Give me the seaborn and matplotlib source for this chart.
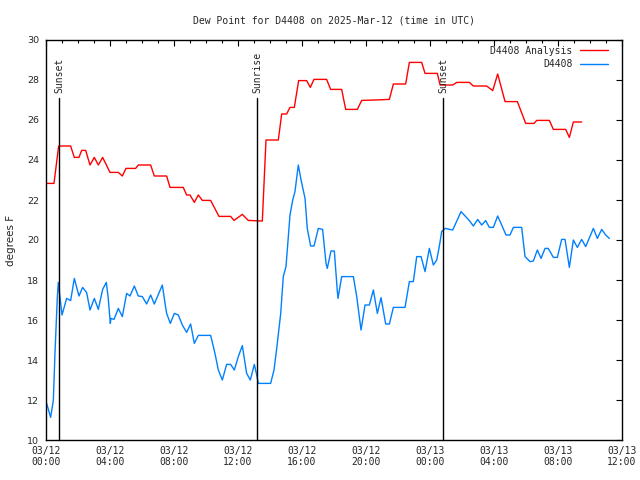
import numpy as np
import pandas as pd
import matplotlib
matplotlib.use("Agg")
import matplotlib.pyplot as plt
import matplotlib.dates as mdates
import seaborn as sns

# ---- data (hours after 2025-03-12 00:00 UTC, degrees F) ----
analysis_hours = [0.0, 0.5, 0.79, 1.54, 1.77, 2.06, 2.23, 2.48, 2.75, 3.02, 3.27, 3.54,
                  4.0, 4.52, 4.77, 5.0, 5.6, 5.77, 6.54, 6.77, 7.54, 7.75, 8.58, 8.79,
                  9.0, 9.27, 9.52, 9.77, 10.29, 10.81, 11.54, 11.75, 12.27, 12.64, 13.52,
                  13.75, 14.52, 14.73, 15.04, 15.25, 15.52, 15.79, 16.29, 16.52, 16.75,
                  17.54, 17.79, 18.48, 18.73, 19.46, 19.73, 20.56, 21.46, 21.71, 22.48,
                  22.71, 23.48, 23.69, 24.46, 24.63, 25.42, 25.67, 26.46, 26.71, 27.54,
                  27.92, 28.23, 28.69, 29.46, 29.98, 30.5, 30.67, 31.46, 31.71, 32.48,
                  32.71, 32.96, 33.48]
analysis_vals = [22.83, 22.83, 24.7, 24.7, 24.13, 24.13, 24.48, 24.48, 23.75, 24.13, 23.75, 24.13,
                 23.38, 23.38, 23.2, 23.58, 23.58, 23.75, 23.75, 23.2, 23.2, 22.63, 22.63, 22.25,
                 22.25, 21.88, 22.25, 21.98, 21.98, 21.18, 21.18, 20.98, 21.28, 20.98, 20.95,
                 25.0, 25.0, 26.3, 26.3, 26.63, 26.63, 27.97, 27.97, 27.63, 28.03,
                 28.03, 27.53, 27.53, 26.53, 26.53, 26.98, 27.0, 27.03, 27.8, 27.8,
                 28.88, 28.88, 28.33, 28.33, 27.75, 27.75, 27.88, 27.88, 27.7, 27.7,
                 27.47, 28.3, 26.92, 26.92, 25.83, 25.83, 25.98, 25.98, 25.53, 25.53,
                 25.13, 25.9, 25.9]

obs_hours = [0.04, 0.29, 0.46, 0.56, 0.71, 0.77, 1.0, 1.29, 1.54, 1.77, 2.06, 2.29, 2.54,
             2.75, 3.02, 3.27, 3.54, 3.77, 3.89, 4.02, 4.06, 4.25, 4.52, 4.77, 5.04, 5.25,
             5.52, 5.77, 6.02, 6.29, 6.54, 6.77, 7.27, 7.44, 7.54, 7.77, 8.02, 8.27, 8.52,
             8.79, 9.04, 9.27, 9.52, 10.29, 10.56, 10.77, 11.02, 11.29, 11.54, 11.77, 12.02,
             12.27, 12.44, 12.54, 12.77, 13.02, 13.17, 13.27, 14.04, 14.25, 14.42, 14.67,
             14.83, 15.0, 15.25, 15.42, 15.56, 15.77, 15.94, 16.19, 16.33, 16.54, 16.75,
             17.02, 17.29, 17.5, 17.58, 17.81, 18.02, 18.21, 18.25, 18.48, 19.21, 19.42,
             19.69, 19.94, 20.21, 20.46, 20.71, 20.94, 21.23, 21.46, 21.71, 22.44, 22.71,
             22.96, 23.17, 23.44, 23.69, 23.96, 24.21, 24.42, 24.58, 24.73, 24.94, 25.42,
             25.94, 26.46, 26.71, 26.98, 27.23, 27.48, 27.71, 27.96, 28.23, 28.48, 28.75,
             29.0, 29.21, 29.73, 29.94, 30.25, 30.46, 30.71, 30.94, 31.19, 31.39, 31.71,
             31.96, 32.23, 32.44, 32.71, 32.96, 33.21, 33.48, 33.73, 34.21, 34.46, 34.73,
             34.98, 35.21]
obs_vals = [11.83, 11.13, 12.0, 14.33, 17.17, 17.88, 16.25, 17.08, 16.97, 18.08, 17.2, 17.63, 17.37,
            16.5, 17.08, 16.53, 17.53, 17.88, 17.08, 15.83, 16.08, 16.03, 16.58, 16.17, 17.33, 17.2,
            17.7, 17.2, 17.17, 16.8, 17.25, 16.8, 17.75, 16.83, 16.33, 15.83, 16.33, 16.25, 15.75,
            15.38, 15.8, 14.83, 15.23, 15.23, 14.33, 13.5, 13.0, 13.78, 13.78, 13.5, 14.17,
            14.72, 13.83, 13.33, 13.0, 13.78, 13.25, 12.83, 12.83, 13.5, 14.58, 16.33,
            18.17, 18.67, 21.25, 22.0, 22.42, 23.75, 23.0, 22.08, 20.58, 19.7, 19.7,
            20.58, 20.53, 18.83, 18.58, 19.45, 19.45, 17.42, 17.08, 18.17, 18.17, 17.17,
            15.5, 16.75, 16.75, 17.5, 16.33, 17.12, 15.8, 15.8, 16.63, 16.63, 17.92,
            17.92, 19.17, 19.17, 18.42, 19.58, 18.75, 19.0, 19.67, 20.42, 20.58, 20.5,
            21.42, 20.97, 20.7, 21.03, 20.75, 20.97, 20.63, 20.63, 21.2, 20.75, 20.25,
            20.25, 20.63, 20.63, 19.17, 18.92, 18.95, 19.5, 19.08, 19.58, 19.58, 19.13,
            19.13, 20.03, 20.03, 18.63, 20.0, 19.63, 20.03, 19.67, 20.58, 20.08, 20.53,
            20.25, 20.08]

sun_events = ["Sunset", "Sunrise", "Sunset"]
sun_times = ["2025-03-12 00:50", "2025-03-12 13:13", "2025-03-13 00:50"]

start = pd.Timestamp("2025-03-12 00:00")
end = pd.Timestamp("2025-03-13 12:00")

df_a = pd.DataFrame({"time": start + pd.to_timedelta(analysis_hours, unit="h"),
                     "value": analysis_vals, "series": "D4408 Analysis"})
df_o = pd.DataFrame({"time": start + pd.to_timedelta(obs_hours, unit="h"),
                     "value": obs_vals, "series": "D4408"})
df = pd.concat([df_a, df_o], ignore_index=True)

sns.set_theme(style="white")
plt.rcParams["font.family"] = ["DejaVu Sans"]

fig = plt.figure(figsize=(6.4, 4.8), dpi=100)
ax = fig.add_axes([46/640, 40/480, 576/640, 400/480])

sns.lineplot(data=df, x="time", y="value", hue="series",
             palette={"D4408 Analysis": "#ff0000", "D4408": "#0080ff"},
             estimator=None, sort=False, linewidth=1.0, ax=ax)

ax.set_xlim(start, end)
ax.set_ylim(10, 30)
ax.set_yticks(np.arange(10, 31, 2))

ax.xaxis.set_major_locator(mdates.HourLocator(byhour=range(0, 24, 4)))
ax.xaxis.set_minor_locator(mdates.HourLocator())
ax.xaxis.set_major_formatter(mdates.DateFormatter("%m/%d\n%H:%M"))

ax.tick_params(axis="x", which="major", labelsize=7, pad=4)
ax.tick_params(axis="y", labelsize=6.8, pad=5)
ax.tick_params(which="both", direction="in", top=True, right=True, color="black",
               width=0.8)
ax.tick_params(which="major", length=4.3)
ax.tick_params(which="minor", length=2.2)
for lab in ax.get_xticklabels():
    lab.set_fontfamily("DejaVu Sans Mono")

for sp in ax.spines.values():
    sp.set_color("black")
    sp.set_linewidth(1.0)

ax.set_xlabel("")
ax.set_ylabel("degrees F", fontsize=7.5, labelpad=8)
ax.set_title("Dew Point for D4408 on 2025-Mar-12 (time in UTC)",
             fontsize=7, family="DejaVu Sans Mono", pad=12)

ymax_frac = (27.1 - 10) / 20
for name, t in zip(sun_events, sun_times):
    tt = pd.Timestamp(t)
    ax.axvline(tt, ymin=0, ymax=ymax_frac, color="black", linewidth=1.0)
    ax.text(tt, 27.35, name, rotation=90, ha="center", va="bottom",
            fontsize=7, family="DejaVu Sans Mono")

leg = ax.legend(loc="upper right", frameon=False, markerfirst=False,
                prop={"family": "DejaVu Sans Mono", "size": 7},
                handlelength=2.8, handletextpad=0.8, labelspacing=0.35,
                borderaxespad=0.2, bbox_to_anchor=(0.985, 1.0))

fig.savefig("out.png", dpi=100, facecolor="white")
